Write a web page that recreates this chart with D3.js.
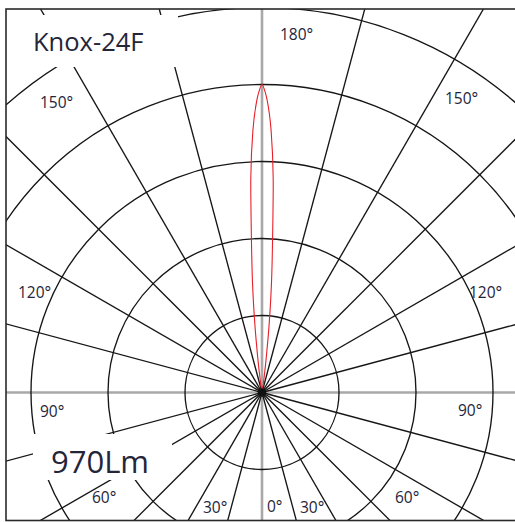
<!DOCTYPE html>
<html>
<head>
<meta charset="utf-8">
<script src="https://cdn.jsdelivr.net/npm/d3@7"></script>
<style>
  html, body { margin: 0; padding: 0; background: #fff; }
  svg { display: block; }
  text { font-family: "Open Sans", "Noto Sans", sans-serif; fill: #25253a; }
</style>
</head>
<body>
<svg id="chart" width="515" height="522"></svg>
<script>
// Luminaire name and luminous flux
const productName = "Knox-24F";
const fluxLabel = "970Lm";

// Intensity rings (cd) and radial spokes (gamma angle, degrees)
const ringValues = [500, 1000, 1500, 2000, 2500];
const spokeAngles = d3.range(0, 360, 15);
const angleLabels = [0, 30, 60, 90, 120, 150, 180];

// Luminous intensity distribution (gamma angle in degrees, candela)
const gammaAngles = [171, 172, 173, 174, 175, 176, 177, 178, 179, 180,
                     181, 182, 183, 184, 185, 186, 187, 188, 189];
const candela     = [0, 90, 220, 440, 700, 980, 1390, 1700, 1900, 2000,
                     1900, 1700, 1390, 980, 700, 440, 220, 90, 0];

const svg = d3.select("#chart");
const W = 515, H = 522;
const cx = 262, cy = 392.5;

const r = d3.scaleLinear().domain([0, 2500]).range([0, 385]);
const toRad = d => d * Math.PI / 180;
// gamma 0 points straight down, 180 straight up
const px = (g, v) => cx + r(v) * Math.sin(toRad(g));
const py = (g, v) => cy + r(v) * Math.cos(toRad(g));

const frame = { x: 6, y: 9, w: 520, h: 511.5 };

svg.append("defs").append("clipPath").attr("id", "plotClip")
  .append("rect").attr("x", frame.x).attr("y", frame.y)
  .attr("width", frame.w).attr("height", frame.h);

const plot = svg.append("g").attr("clip-path", "url(#plotClip)");

// main cross axes
plot.append("line").attr("x1", cx).attr("x2", cx).attr("y1", 0).attr("y2", H)
  .attr("stroke", "#a9a9a9").attr("stroke-width", 2.6);
plot.append("line").attr("x1", 0).attr("x2", W).attr("y1", cy).attr("y2", cy)
  .attr("stroke", "#a9a9a9").attr("stroke-width", 2.6);

// radial spokes reaching past the frame
const farValue = r.invert(700);
plot.append("g").selectAll("line").data(spokeAngles.filter(a => a % 90 !== 0)).join("line")
  .attr("x1", cx).attr("y1", cy)
  .attr("x2", a => px(a, farValue)).attr("y2", a => py(a, farValue))
  .attr("stroke", "#161616").attr("stroke-width", 1.35);

// intensity rings
plot.append("g").selectAll("circle").data(ringValues).join("circle")
  .attr("cx", cx).attr("cy", cy).attr("r", v => r(v))
  .attr("fill", "none").attr("stroke", "#161616").attr("stroke-width", 1.35);

// white panels behind the name and flux labels
plot.append("rect").attr("x", 0).attr("y", 15).attr("width", 178).attr("height", 52).attr("fill", "#fff");
plot.append("rect").attr("x", 33).attr("y", 434).attr("width", 139).attr("height", 46).attr("fill", "#fff");

// distribution curve
const curve = d3.lineRadial()
  .angle(g => Math.PI - toRad(g))
  .radius((g, i) => r(candela[i]))
  .curve(d3.curveCardinal.tension(0.3));
plot.append("path")
  .attr("transform", `translate(${cx},${cy})`)
  .attr("d", curve(gammaAngles))
  .attr("fill", "none").attr("stroke", "#e8202a").attr("stroke-width", 1.1);

plot.append("circle").attr("cx", cx).attr("cy", cy).attr("r", 4.2).attr("fill", "#111");

// frame
svg.append("rect").attr("x", frame.x).attr("y", frame.y)
  .attr("width", frame.w).attr("height", frame.h)
  .attr("fill", "none").attr("stroke", "#2a2a2a").attr("stroke-width", 1.6);

// angle labels: each value appears on both sides except 0 and 180
const labelSpots = {
  180: [[280, 40]],
  150: [[40, 108], [445, 104]],
  120: [[18, 298], [469, 298]],
  90:  [[40, 417], [458, 416]],
  60:  [[92, 503], [395, 503]],
  30:  [[203, 513], [300, 513]],
  0:   [[267, 512]]
};
const labelData = angleLabels.flatMap(a => labelSpots[a].map(p => ({ a, p })));
svg.append("g").selectAll("text").data(labelData).join("text")
  .attr("x", d => d.p[0]).attr("y", d => d.p[1])
  .attr("font-size", 15.5)
  .text(d => d.a + "°");

svg.append("text").attr("x", 33).attr("y", 51).attr("font-size", 25.5).text(productName);
svg.append("text").attr("x", 51).attr("y", 473).attr("font-size", 31).text(fluxLabel);
</script>
</body>
</html>
